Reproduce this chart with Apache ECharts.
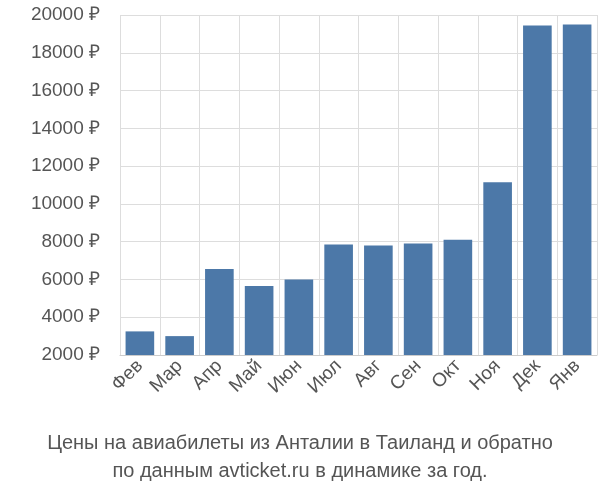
<!DOCTYPE html>
<html><head><meta charset="utf-8">
<script src="https://cdn.jsdelivr.net/npm/echarts@6/dist/echarts.min.js"></script>
<style>body{margin:0}#c{width:600px;height:500px}</style></head>
<body><div id="c"></div>
<script>
const categories = ['Фев','Мар','Апр','Май','Июн','Июл','Авг','Сен','Окт','Ноя','Дек','Янв'];
const prices = [3250,3000,6550,5650,6000,7850,7800,7900,8100,11150,19450,19500];
const titleLines = ['Цены на авиабилеты из Анталии в Таиланд и обратно','по данным avticket.ru в динамике за год.'];
const chart = echarts.init(document.getElementById('c'));
chart.setOption({
  animation:false,
  title:{text:titleLines.join('\n'),left:'center',bottom:10,textStyle:{fontFamily:'Liberation Sans',fontSize:20,fontWeight:'normal',color:'#555',lineHeight:28}},
  grid:{left:120,right:3,top:15,bottom:145},
  xAxis:{type:'category',data:categories,axisTick:{show:false},axisLine:{lineStyle:{color:'#ccc'}},
    axisLabel:{rotate:45,fontFamily:'Liberation Sans',fontSize:19,color:'#555',margin:8},splitLine:{show:true,lineStyle:{color:'#ddd'}}},
  yAxis:{type:'value',min:2000,max:20000,interval:2000,axisLine:{show:false},axisTick:{show:false},
    axisLabel:{formatter:v=>v+' ₽',fontFamily:'Liberation Sans',fontSize:19,color:'#555',margin:20},splitLine:{lineStyle:{color:'#ddd'}}},
  series:[{type:'bar',data:prices,barWidth:'72%',itemStyle:{color:'#4c78a8'}}]
});
</script></body></html>
